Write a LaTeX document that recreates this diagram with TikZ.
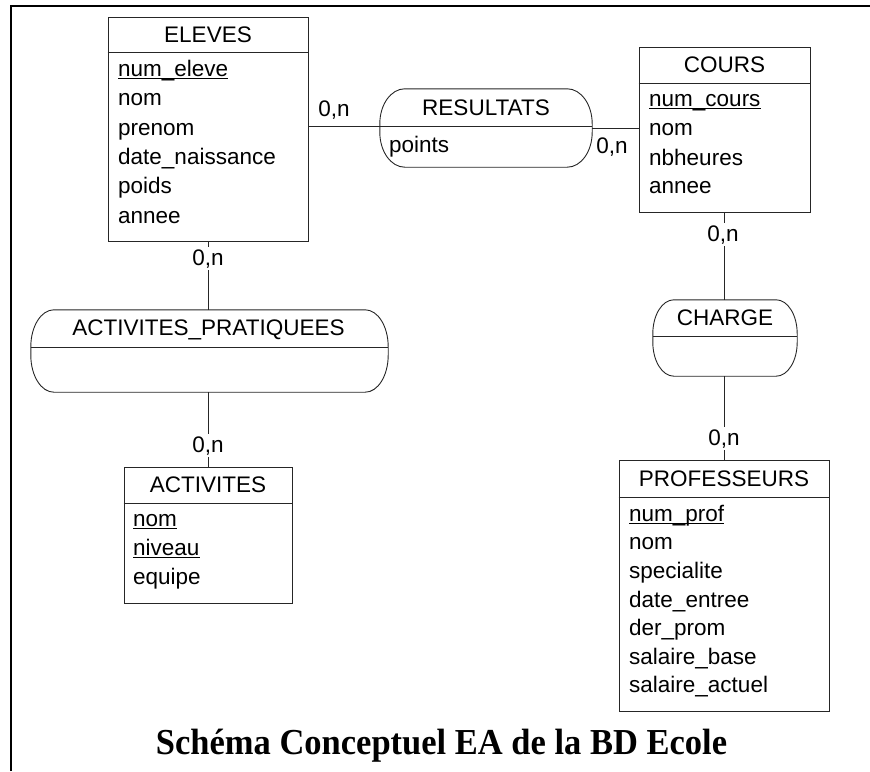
\documentclass[tikz,border=0pt]{standalone}
\usepackage{graphicx}
\usepackage{fontspec}
\setmainfont{Liberation Sans}
\newfontfamily\titlefont{Liberation Serif}
\newcommand{\keyattr}[1]{\setbox0\hbox{#1}\rlap{\rule[-3pt]{\wd0}{1.1pt}}\box0}
\newcommand{\relshape}[3]{%
  \draw[relline] ([xshift=#2]#1.north west) -- ([xshift=-#2]#1.north east)
    arc[start angle=90, end angle=0, x radius=#2, y radius=#3]
    -- ([yshift=#3]#1.south east)
    arc[start angle=0, end angle=-90, x radius=#2, y radius=#3]
    -- ([xshift=#2]#1.south west)
    arc[start angle=270, end angle=180, x radius=#2, y radius=#3]
    -- ([yshift=-#3]#1.north west)
    arc[start angle=180, end angle=90, x radius=#2, y radius=#3] -- cycle;}
\tikzset{
  ent/.style={draw=black!85, line width=1pt, inner sep=0pt, rectangle},
  relnode/.style={inner sep=0pt, rectangle},
  relline/.style={draw=black!85, line width=0.9pt},
  conn/.style={draw=black!85, line width=0.9pt},
  ttl/.style={anchor=base, inner sep=0pt, font=\fontsize{22.5}{26}\selectfont},
  attr/.style={anchor=base west, inner sep=0pt, font=\fontsize{22.5}{26}\selectfont},
  card/.style={anchor=base, fill=white, inner sep=2pt, font=\fontsize{22.5}{26}\selectfont},
  cardplain/.style={anchor=base, inner sep=0pt, font=\fontsize{22.5}{26}\selectfont},
}
\begin{document}
\begin{tikzpicture}[x=1pt,y=1pt]
\useasboundingbox (0,0) rectangle (870,-771);
% frame
\draw[line width=2pt] (11,-771) -- (11,-6) -- (870,-6);

% ---------- entities ----------
% ELEVES
\node[ent, minimum width=200pt, minimum height=224pt] (eleves) at (208,-129) {};
\draw[relline] (eleves.west |- 0,-52) -- (eleves.east |- 0,-52);
\node[ttl] (eleves-t) at (208,-42) {ELEVES};
\node[attr] (eleves-a1) at (118,-76) {\keyattr{num\_eleve}};
\node[attr] (eleves-a2) at (118,-105) {nom};
\node[attr] (eleves-a3) at (118,-135) {prenom};
\node[attr] (eleves-a4) at (118,-164) {date\_naissance};
\node[attr] (eleves-a5) at (118,-193) {poids};
\node[attr] (eleves-a6) at (118,-223) {annee};

% COURS
\node[ent, minimum width=171pt, minimum height=165pt] (cours) at (724.5,-129.5) {};
\draw[relline] (cours.west |- 0,-83) -- (cours.east |- 0,-83);
\node[ttl] (cours-t) at (724.5,-72) {COURS};
\node[attr] (cours-a1) at (649,-106) {\keyattr{num\_cours}};
\node[attr] (cours-a2) at (649,-135) {nom};
\node[attr] (cours-a3) at (649,-165) {nbheures};
\node[attr] (cours-a4) at (649,-193) {annee};

% ACTIVITES
\node[ent, minimum width=168pt, minimum height=136pt] (activites) at (208,-535) {};
\draw[relline] (activites.west |- 0,-503) -- (activites.east |- 0,-503);
\node[ttl] (activites-t) at (208,-492) {ACTIVITES};
\node[attr] (activites-a1) at (133,-526) {\keyattr{nom}};
\node[attr] (activites-a2) at (133,-555) {\keyattr{niveau}};
\node[attr] (activites-a3) at (133,-584) {equipe};

% PROFESSEURS
\node[ent, minimum width=210pt, minimum height=251pt] (prof) at (724,-585.5) {};
\draw[relline] (prof.west |- 0,-497) -- (prof.east |- 0,-497);
\node[ttl] (prof-t) at (724,-486) {PROFESSEURS};
\node[attr] (prof-a1) at (629,-521) {\keyattr{num\_prof}};
\node[attr] (prof-a2) at (629,-549.5) {nom};
\node[attr] (prof-a3) at (629,-578) {specialite};
\node[attr] (prof-a4) at (629,-607) {date\_entree};
\node[attr] (prof-a5) at (629,-635.5) {der\_prom};
\node[attr] (prof-a6) at (629,-664) {salaire\_base};
\node[attr] (prof-a7) at (629,-692) {salaire\_actuel};

% ---------- relationships ----------
% RESULTATS (380,89)-(592,167)
\node[relnode, minimum width=212pt, minimum height=78pt] (res) at (486,-128) {};
\relshape{res}{25pt}{35pt}
\coordinate (res-l) at (380,-126);
\draw[relline] (res-l) -- (res-l -| res.east);
\node[ttl] (res-t) at (486,-115) {RESULTATS};
\node[attr] (res-a1) at (389,-152) {points};

% ACTIVITES_PRATIQUEES (31,310)-(388,392)
\node[relnode, minimum width=357pt, minimum height=82pt] (ap) at (209.5,-351) {};
\relshape{ap}{23pt}{37pt}
\draw[relline] (ap.west |- 0,-347) -- (ap.east |- 0,-347);
\node[ttl] (ap-t) at (208.5,-335) {ACTIVITES\_PRATIQUEES};

% CHARGE (653,300)-(797,376)
\node[relnode, minimum width=144pt, minimum height=76pt] (charge) at (725,-338) {};
\relshape{charge}{21pt}{34pt}
\draw[relline] (charge.west |- 0,-336) -- (charge.east |- 0,-336);
\node[ttl] (charge-t) at (725,-325) {CHARGE};

% ---------- connectors ----------
\draw[conn] (res-l) -- (res-l -| eleves.east);
\draw[conn] (res.east) -- (res.east -| cours.west);
\draw[conn] (cours.south) -- (cours.south |- charge.north);
\draw[conn] (prof.north) -- (prof.north |- charge.south);
\draw[conn] (eleves.south) -- (eleves.south |- ap.north);
\draw[conn] (activites.north) -- (activites.north |- ap.south);

% ---------- cardinalities ----------
\node[cardplain] (c1) at (334,-116) {0,n};
\node[cardplain] (c2) at (612,-153) {0,n};
\node[card] (c3) at (723,-241) {0,n};
\node[card] (c4) at (724,-445) {0,n};
\node[card] (c5) at (208,-265) {0,n};
\node[card] (c6) at (208,-452) {0,n};

% ---------- title ----------
\node[anchor=base, inner sep=0pt, font=\titlefont\bfseries\fontsize{34.5}{40}\selectfont] (title) at (441.5,-754) {\scalebox{1}[1.06]{Schéma Conceptuel EA de la BD Ecole}};
\end{tikzpicture}
\end{document}
